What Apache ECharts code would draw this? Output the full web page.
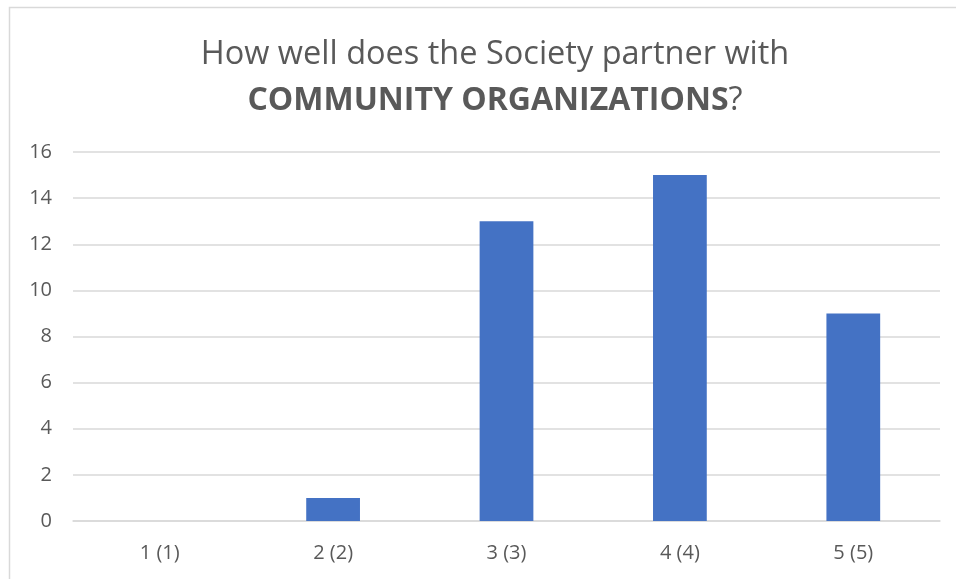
<!DOCTYPE html>
<html>
<head>
<meta charset="utf-8">
<script src="https://cdn.jsdelivr.net/npm/echarts@6/dist/echarts.min.js"></script>
<style>html,body{margin:0;padding:0;background:#fff}#c{width:956px;height:579px}</style>
</head>
<body>
<div id="c"></div>
<script>
var categories = ['1 (1)', '2 (2)', '3 (3)', '4 (4)', '5 (5)'];
var values = [0, 1, 13, 15, 9];
var titleLine1 = 'How well does the Society partner with';
var titleBold = 'COMMUNITY ORGANIZATIONS';
var titleEnd = '?';

var chart = echarts.init(document.getElementById('c'));
chart.setOption({
  animation: false,
  graphic: [{
    type: 'rect', shape: {x: 9.5, y: 7.5, width: 1000, height: 1000},
    style: {fill: 'none', stroke: '#d9d9d9', lineWidth: 1.5}, silent: true
  }],
  title: {
    text: '{a|' + titleLine1 + '}\n{b|' + titleBold + '}{a|' + titleEnd + '}',
    left: 490, top: 27, textAlign: 'center',
    textStyle: {
      fontWeight: 'normal',
      rich: {
        a: {fontFamily: 'Open Sans', fontSize: 32.5, fontWeight: 'normal', color: '#595959', lineHeight: 46},
        b: {fontFamily: 'Open Sans', fontSize: 32, fontWeight: 'bold', color: '#595959', lineHeight: 46}
      }
    }
  },
  grid: {left: 73, right: 16, top: 152, bottom: 58},
  xAxis: {
    type: 'category', data: categories,
    axisLine: {lineStyle: {color: '#d9d9d9', width: 1.5}},
    axisTick: {show: false},
    axisLabel: {color: '#595959', fontFamily: 'Open Sans', fontSize: 20, margin: 22}
  },
  yAxis: {
    type: 'value', min: 0, max: 16, interval: 2,
    axisLine: {show: false}, axisTick: {show: false},
    splitLine: {lineStyle: {color: '#d9d9d9', width: 1.5}},
    axisLabel: {color: '#595959', fontFamily: 'Open Sans', fontSize: 20, margin: 21}
  },
  series: [{
    type: 'bar', data: values, barWidth: '31%',
    itemStyle: {color: '#4472c4'}
  }]
});
</script>
</body>
</html>
